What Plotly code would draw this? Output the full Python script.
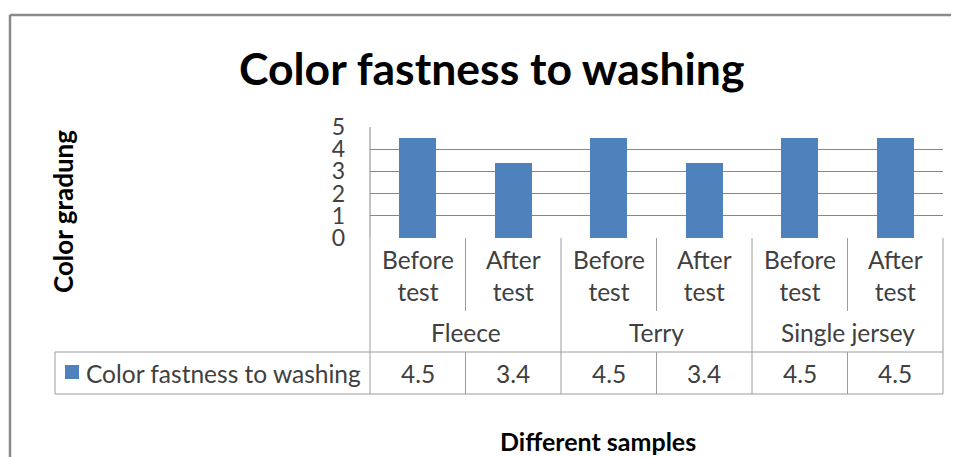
import plotly.graph_objects as go

# ---- data ----
chart_title = "Color fastness to washing"
y_title = "Color gradung"
x_title = "Different samples"
series_name = "Color fastness to washing"
groups = ["Fleece", "Terry", "Single jersey"]
conditions = ["Before test", "After test"]
values = [4.5, 3.4, 4.5, 3.4, 4.5, 4.5]
y_tick_vals = [0, 1, 2, 3, 4, 5]

# ---- layout geometry (pixels in the 959x457 window; page body adds an 8px offset) ----
OFF = 8
W, H = 959 - OFF, 457 - OFF
PL, PR, PT, PB = 370, 943, 127, 238  # plot area edges (window pixels)


def px(x):
    return (x - PL) / (PR - PL)


def py(y):
    return (PB - y) / (PB - PT)


n = len(values)
xs = list(range(n))
BAR = "#4F81BD"
GRID = "#878787"
TBL = "#9c9c9c"
TXT = "#404040"
FONT = "Lato"
FS = 24.5

fig = go.Figure()
fig.add_trace(go.Bar(x=xs, y=values, width=0.39, marker=dict(color=BAR, line=dict(width=0)),
                     name=series_name, showlegend=False, hoverinfo="y"))

shapes = []


def line(x0, y0, x1, y1, color=TBL, width=1):
    shapes.append(dict(type="line", xref="paper", yref="paper", x0=x0, y0=y0, x1=x1, y1=y1,
                       line=dict(color=color, width=width), layer="above"))


# outer frame
line(px(10), py(15), px(970), py(15), color="#8a8a8a", width=2.5)
line(px(10), py(15), px(10), py(470), color="#8a8a8a", width=2.5)

# plot area left border
line(0, 1, 0, 0, color=GRID)

# category table lines
ncond = len(conditions)
row1_bottom, tbl_top, tbl_bottom = 311, 352, 394
for i in range(n + 1):
    xp = i / n
    if i % ncond == 0:
        line(xp, 0, xp, py(tbl_bottom))
    else:
        line(xp, 0, xp, py(row1_bottom))
        line(xp, py(tbl_top), xp, py(tbl_bottom))
line(px(55), py(tbl_top), 1, py(tbl_top))
line(px(55), py(tbl_bottom), 1, py(tbl_bottom))
line(px(55), py(tbl_top), px(55), py(tbl_bottom))

# legend key square
shapes.append(dict(type="rect", xref="paper", yref="paper", x0=px(65), x1=px(79),
                   y0=py(365), y1=py(379), fillcolor=BAR, line=dict(width=0)))

ann = []
ann.append(dict(text=chart_title, x=px(491), y=py(67), xref="paper", yref="paper",
                showarrow=False, xanchor="center", yanchor="middle",
                font=dict(family=FONT, size=44.5, color="black", weight="bold")))
ann.append(dict(text=y_title, x=px(63), y=py(212), xref="paper", yref="paper", textangle=-90,
                showarrow=False, xanchor="center", yanchor="middle",
                font=dict(family=FONT, size=26, color="black", weight="bold")))
ann.append(dict(text=x_title, x=px(598), y=py(441), xref="paper", yref="paper",
                showarrow=False, xanchor="center", yanchor="middle",
                font=dict(family=FONT, size=25, color="black", weight="bold")))

# category labels
for gi, g in enumerate(groups):
    for ci, c in enumerate(conditions):
        k = gi * ncond + ci
        ann.append(dict(text=c.replace(" ", "<br>"), x=xs[k], y=py(275), xref="x", yref="paper",
                        showarrow=False, xanchor="center", yanchor="middle",
                        font=dict(family=FONT, size=FS, color=TXT)))
    ann.append(dict(text=g, x=(gi * ncond + (ncond - 1) / 2), y=py(332), xref="x", yref="paper",
                    showarrow=False, xanchor="center", yanchor="middle",
                    font=dict(family=FONT, size=FS, color=TXT)))

# data table values
for k, v in enumerate(values):
    ann.append(dict(text=f"{v:.1f}", x=xs[k], y=py(373), xref="x", yref="paper",
                    showarrow=False, xanchor="center", yanchor="middle",
                    font=dict(family=FONT, size=FS, color=TXT)))
ann.append(dict(text=series_name, x=px(84), y=py(373), xref="paper", yref="paper",
                showarrow=False, xanchor="left", yanchor="middle",
                font=dict(family=FONT, size=FS, color=TXT)))

fig.update_layout(
    width=W, height=H,
    margin=dict(l=PL - OFF, r=W - (PR - OFF), t=PT - OFF, b=H - (PB - OFF), pad=0),
    paper_bgcolor="white", plot_bgcolor="white",
    shapes=shapes, annotations=ann, showlegend=False,
    bargap=0,
    xaxis=dict(range=[-0.5, n - 0.5], showticklabels=False, showgrid=False, zeroline=False,
               showline=False, ticks="", fixedrange=True),
    yaxis=dict(range=[0, 5], tickvals=y_tick_vals, showgrid=True, gridcolor=GRID, gridwidth=1,
               zeroline=False, showline=False, ticks="", ticklabelstandoff=24,
               tickfont=dict(family=FONT, size=23, color=TXT), fixedrange=True),
)

fig.write_html("out.html")
